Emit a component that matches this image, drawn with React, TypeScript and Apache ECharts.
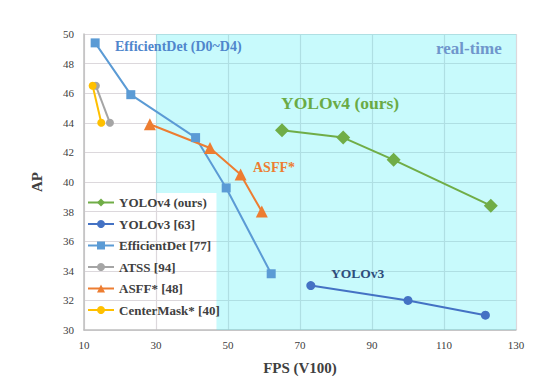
import React, { useEffect, useRef } from "react";
import * as echarts from "echarts";

const xTicks = { min: 10, max: 130, interval: 20 };
const yTicks = { min: 30, max: 50, interval: 2 };

const yolov4: number[][] = [[65, 43.5], [82, 43.0], [96, 41.5], [123, 38.4]];
const yolov3: number[][] = [[73, 33.0], [100, 32.0], [121.5, 31.0]];
const efficientDet: number[][] = [[13.1, 49.4], [23, 45.9], [41, 43.0], [49.5, 39.6], [62, 33.8]];
const atss: number[][] = [[13.3, 46.5], [17.2, 44.0]];
const asff: number[][] = [[28.3, 43.9], [45, 42.3], [53.5, 40.5], [59.4, 38.0]];
const centerMask: number[][] = [[12.4, 46.5], [14.8, 44.0]];

const seriesNames = ["YOLOv4 (ours)", "YOLOv3 [63]", "EfficientDet [77]", "ATSS [94]", "ASFF* [48]", "CenterMask* [40]"];

// real-time region (cyan), excluding legend box
const realTimeTop = [[30, 39.25], [130, 50]];
const realTimeBottom = [[46.8, 30], [130, 39.25]];

const FONT = "Liberation Serif";
const GRID_COLOR = "#dcd8dc";

export default function App() {
  const ref = useRef<HTMLDivElement>(null);
  useEffect(() => {
    const chart = echarts.init(ref.current!, undefined, { renderer: "svg" });
    const mk = (name: string, data: number[][], color: string, symbol: string, size: number) => ({
      name,
      type: "line",
      data,
      z: 6,
      symbol,
      symbolSize: size,
      itemStyle: { color },
      lineStyle: { color, width: 2 },
    });
    chart.setOption({
      animation: false,
      backgroundColor: "#ffffff",
      grid: { left: 84, top: 34, width: 432, height: 296 },
      xAxis: {
        type: "value",
        ...xTicks,
        name: "FPS (V100)",
        nameLocation: "middle",
        nameGap: 30,
        nameTextStyle: { fontFamily: FONT, fontWeight: "bold", fontSize: 15, color: "#404040" },
        axisLine: { show: true, lineStyle: { color: "#bfbfbf", width: 1.5 } },
        axisTick: { show: false },
        axisLabel: { fontFamily: FONT, fontSize: 11, color: "#404040", margin: 9 },
        splitLine: { show: true, lineStyle: { color: GRID_COLOR, width: 1.2 } },
      },
      yAxis: {
        type: "value",
        ...yTicks,
        name: "AP",
        nameLocation: "middle",
        nameGap: 40,
        nameTextStyle: { fontFamily: FONT, fontWeight: "bold", fontSize: 15, color: "#404040" },
        axisLine: { show: true, lineStyle: { color: "#bfbfbf", width: 1.5 } },
        axisTick: { show: false },
        axisLabel: { fontFamily: FONT, fontSize: 11, color: "#404040", margin: 10 },
        splitLine: { show: true, lineStyle: { color: GRID_COLOR, width: 1.2 } },
      },
      legend: {
        orient: "vertical",
        left: 82,
        top: 191,
        itemWidth: 26,
        itemHeight: 10,
        itemGap: 8.5,
        z: 8,
        data: seriesNames,
        textStyle: { fontFamily: FONT, fontWeight: "bold", fontSize: 13, color: "#404040" },
      },
      series: [
        {
          name: "bg",
          type: "line",
          data: [[130, 30]],
          symbol: "none",
          lineStyle: { width: 0 },
          z: 1,
          silent: true,
          markArea: {
            silent: true,
            itemStyle: { color: "rgba(72,238,245,0.3)" },
            data: [
              [{ xAxis: realTimeTop[0][0], yAxis: realTimeTop[0][1] }, { xAxis: realTimeTop[1][0], yAxis: realTimeTop[1][1] }],
              [{ xAxis: realTimeBottom[0][0], yAxis: realTimeBottom[0][1] }, { xAxis: realTimeBottom[1][0], yAxis: realTimeBottom[1][1] }],
            ],
          },
        },
        mk(seriesNames[2], efficientDet, "#5b9bd5", "rect", 9),
        mk(seriesNames[3], atss, "#a5a5a5", "circle", 8),
        mk(seriesNames[5], centerMask, "#ffc000", "circle", 8),
        mk(seriesNames[4], asff, "#ed7d31", "triangle", 12),
        mk(seriesNames[1], yolov3, "#4472c4", "circle", 9),
        mk(seriesNames[0], yolov4, "#70ad47", "diamond", 14),
      ],
      graphic: [
        { type: "text", z: 10, left: 115, top: 39, style: { text: "EfficientDet (D0~D4)", font: `bold 14px "${FONT}"`, fill: "#4f86cc" } },
        { type: "text", z: 10, left: 436, top: 40, style: { text: "real-time", font: `bold 17px "${FONT}"`, fill: "#6f96cc" } },
        { type: "text", z: 10, left: 281, top: 94, style: { text: "YOLOv4 (ours)", font: `bold 17.5px "${FONT}"`, fill: "#6aaa45" } },
        { type: "text", z: 10, left: 253, top: 160, style: { text: "ASFF*", font: `bold 14px "${FONT}"`, fill: "#ed7d31" } },
        { type: "text", z: 10, left: 331, top: 266, style: { text: "YOLOv3", font: `bold 13.5px "${FONT}"`, fill: "#2e4d7b" } },
      ],
    });
    return () => chart.dispose();
  }, []);
  return <div ref={ref} style={{ position: "absolute", left: 0, top: 0, width: 555, height: 383 }} />;
}
